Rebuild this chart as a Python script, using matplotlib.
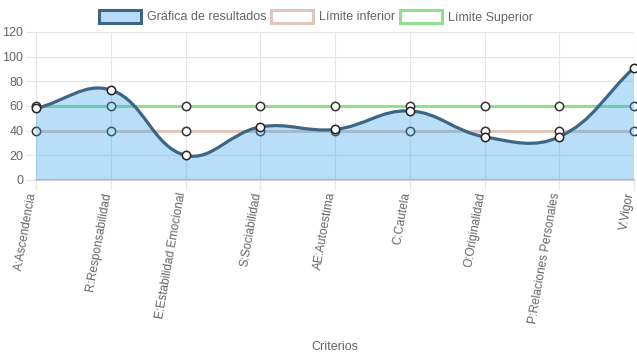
import numpy as np
import matplotlib
matplotlib.use('Agg')
import matplotlib.pyplot as plt
import matplotlib.transforms as mtransforms
from matplotlib.path import Path
from matplotlib.patches import PathPatch, Rectangle

plt.rcParams['font.family'] = ['Liberation Sans', 'DejaVu Sans']

# data
criterios = ['A:Ascendencia', 'R:Responsabilidad', 'E:Estabilidad Emocional',
             'S:Sociabilidad', 'AE:Autoestima', 'C:Cautela', 'O:Originalidad',
             'P:Relaciones Personales', 'V:Vigor']
resultados = [58, 73, 20, 43, 41, 56, 35, 35, 91]
limite_inferior = [40, 40, 40, 40, 40, 40, 40, 40, 40]
limite_superior = [60, 60, 60, 60, 60, 60, 60, 60, 60]
series_names = ['Gráfica de resultados', 'Límite inferior', 'Límite Superior']

C_RES = '#3d6585'
C_FILL = '#36a2eb'
C_INF = '#e3c6bb'
C_SUP = '#8fe08f'
C_GRID = '#e6e6e6'
C_TXT = '#666666'

W, H = 637, 359
fig = plt.figure(figsize=(W / 100, H / 100), dpi=100)
ax = fig.add_axes([36 / W, 1 - 180 / H, 598 / W, 148 / H])
ax.set_xlim(0, len(criterios) - 1)
ax.set_ylim(0, 120)


def spline_path(ys, tension=0.4):
    # chart.js style bezier spline, distances measured in pixels
    xs = np.arange(len(ys), dtype=float)
    sx, sy = 598 / 8, 148 / 120
    px = xs * sx
    py = np.array(ys, dtype=float) * sy
    n = len(xs)
    cps = []
    for i in range(n):
        p0 = i - 1 if i > 0 else i
        p2 = i + 1 if i < n - 1 else i
        d01 = np.hypot(px[i] - px[p0], py[i] - py[p0])
        d12 = np.hypot(px[p2] - px[i], py[p2] - py[i])
        tot = d01 + d12
        s01 = d01 / tot if tot else 0
        s12 = d12 / tot if tot else 0
        fa, fb = tension * s01, tension * s12
        prev = (px[i] - fa * (px[p2] - px[p0]), py[i] - fa * (py[p2] - py[p0]))
        nxt = (px[i] + fb * (px[p2] - px[p0]), py[i] + fb * (py[p2] - py[p0]))
        cps.append((prev, nxt))

    def to_data(pt):
        x = min(max(pt[0] / sx, 0), n - 1)
        y = min(max(pt[1] / sy, 0), 120)
        return (x, y)

    verts = [(xs[0], ys[0])]
    codes = [Path.MOVETO]
    for i in range(n - 1):
        verts += [to_data(cps[i][1]), to_data(cps[i + 1][0]), (xs[i + 1], ys[i + 1])]
        codes += [Path.CURVE4] * 3
    return verts, codes


x = np.arange(len(criterios))

# limit lines (drawn under the fill)
ax.plot(x, limite_inferior, color=C_INF, lw=2.2, zorder=2, marker='o',
        ms=6.0, mfc='white', mec='#333333', mew=1.1, clip_on=False)
ax.plot(x, limite_superior, color=C_SUP, lw=2.2, zorder=2, marker='o',
        ms=6.0, mfc='white', mec='#333333', mew=1.1, clip_on=False)

verts, codes = spline_path(resultados)
fill_verts = verts + [(x[-1], 0), (x[0], 0), (x[0], resultados[0])]
fill_codes = codes + [Path.LINETO, Path.LINETO, Path.CLOSEPOLY]
ax.add_patch(PathPatch(Path(fill_verts, fill_codes), facecolor=C_FILL,
                       alpha=0.35, edgecolor='none', zorder=3))
ax.add_patch(PathPatch(Path(verts, codes), facecolor='none', edgecolor=C_RES,
                       lw=2.3, zorder=4, clip_on=False))
ax.plot(x, resultados, ls='none', marker='o', ms=6.0, mfc='white',
        mec='#222222', mew=1.1, zorder=5, clip_on=False)

# axes styling
ax.set_yticks(range(0, 121, 20))
ax.set_xticks(x)
ax.tick_params(axis='y', labelsize=9, colors=C_TXT, length=7, color=C_GRID, pad=2)
ax.tick_params(axis='x', length=7, color=C_GRID, pad=2)
ax.set_xticklabels(criterios, rotation=80, ha='right', va='center',
                   rotation_mode='anchor', fontsize=8.6, color=C_TXT)
# nudge the rotated labels a little to the left, as in the reference
shift = mtransforms.ScaledTranslation(-3 / 100, 0, fig.dpi_scale_trans)
for lbl in ax.get_xticklabels():
    lbl.set_transform(lbl.get_transform() + shift)
ax.grid(True, color=C_GRID, lw=0.8, zorder=0)
ax.set_axisbelow(True)
for side in ['top', 'right', 'left']:
    ax.spines[side].set_visible(False)
ax.spines['bottom'].set_color('#cfcfcf')
ax.spines['bottom'].set_linewidth(1.5)

fig.text((36 + 299) / W, 1 - 347 / H, 'Criterios', ha='center', va='center',
         fontsize=9, color=C_TXT)

# legend drawn by hand to match the boxes of the reference
box_left = [99, 271, 400]
box_face = ['#b9dbf7', 'white', 'white']
box_edge = [C_RES, C_INF, C_SUP]
for bx, fc, ec, name in zip(box_left, box_face, box_edge, series_names):
    fig.add_artist(Rectangle((bx / W, 1 - 23 / H), 42 / W, 13 / H,
                             transform=fig.transFigure, facecolor=fc,
                             edgecolor=ec, lw=2.2))
    fig.text((bx + 48) / W, 1 - 20.5 / H, name, ha='left', va='baseline',
             fontsize=9, color=C_TXT)

fig.savefig('out.png', dpi=100)
